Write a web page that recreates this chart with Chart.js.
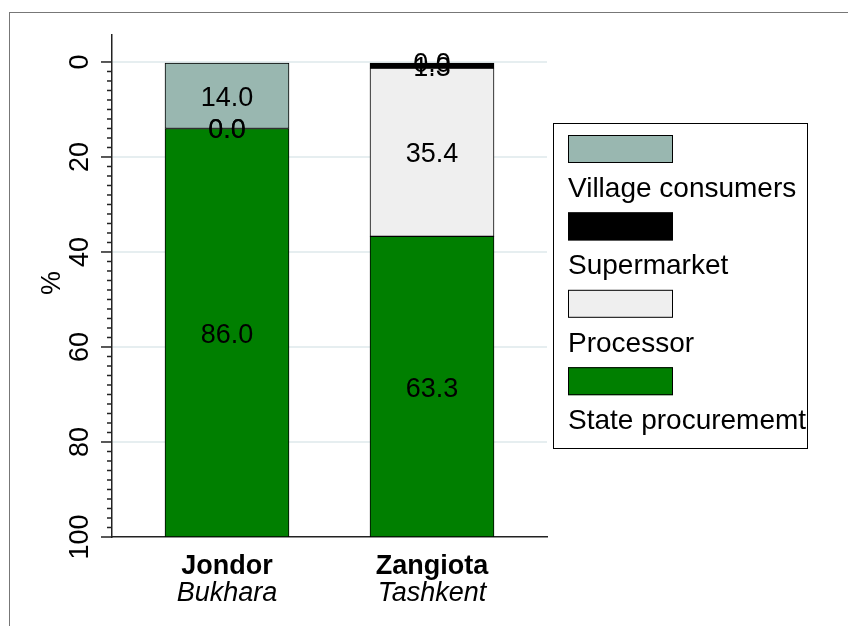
<!DOCTYPE html>
<html lang="en">
<head>
<meta charset="UTF-8">
<title>Sales channels by district</title>
<script src="https://cdn.jsdelivr.net/npm/chart.js"></script>
<style>
  body { margin: 0; background: #fff; }
  #wrap { position: relative; width: 848px; height: 626px; overflow: hidden; }
  #frame { position: absolute; left: 9px; top: 12px; width: 900px; height: 700px; border: 1px solid #777; }
  #chart { position: absolute; left: 0; top: 0; }
</style>
</head>
<body>
<div id="wrap">
  <div id="frame"></div>
  <canvas id="chart" width="848" height="626"></canvas>
</div>
<script>
// districts (bold) and regions (italic)
const districts = ["Jondor", "Zangiota"];
const regions = ["Bukhara", "Tashkent"];

// shares in %, stacked from the top of the reversed axis down
const villageConsumers = [14.0, 0.0];
const supermarket = [0.0, 1.3];
const processor = [0.0, 35.4];
const stateProcurement = [86.0, 63.3];

const seriesLabels = ["Village consumers", "Supermarket", "Processor", "State procurememt"];
const seriesColors = ["#99b7b0", "#000000", "#efefef", "#007f00"];
const yTicks = [0, 20, 40, 60, 80, 100];

const FONT = "'Liberation Sans', Arial, sans-serif";

const seriesValues = [villageConsumers, supermarket, processor, stateProcurement];
const datasets = seriesValues.map((vals, i) => ({
  label: seriesLabels[i],
  data: vals.map((v, j) => ({ x: j + 1, y: v })),
  backgroundColor: seriesColors[i],
  borderColor: "#000",
  borderWidth: 1,
  borderSkipped: false,
  barThickness: 124,
  stack: "all"
}));

// numbers in the middle of each segment
const valueLabels = {
  id: "valueLabels",
  afterDatasetsDraw(chart) {
    const ctx = chart.ctx;
    ctx.save();
    ctx.font = "27px " + FONT;
    ctx.fillStyle = "#000";
    ctx.textAlign = "center";
    ctx.textBaseline = "alphabetic";
    chart.data.datasets.forEach((ds, i) => {
      chart.getDatasetMeta(i).data.forEach((el, j) => {
        const mid = (el.y + el.base) / 2;
        ctx.fillText(ds.data[j].y.toFixed(1), el.x, mid + 10);
      });
    });
    ctx.restore();
  }
};

// stata-like axis decorations, category labels and legend
const decorations = {
  id: "decorations",
  afterDraw(chart) {
    const ctx = chart.ctx;
    const y = chart.scales.y, x = chart.scales.x;
    const left = chart.chartArea.left;
    ctx.save();
    ctx.strokeStyle = "#222";
    ctx.lineWidth = 1.5;
    // major and minor ticks
    for (let v = 0; v <= 100; v += 2) {
      const py = y.getPixelForValue(v);
      const len = v % 20 === 0 ? 11 : 5;
      ctx.beginPath();
      ctx.moveTo(left - len, py);
      ctx.lineTo(left, py);
      ctx.stroke();
    }
    // rotated tick labels
    ctx.fillStyle = "#000";
    ctx.font = "27px " + FONT;
    ctx.textAlign = "center";
    ctx.textBaseline = "alphabetic";
    yTicks.forEach(v => {
      ctx.save();
      ctx.translate(88, y.getPixelForValue(v));
      ctx.rotate(-Math.PI / 2);
      ctx.fillText(String(v), 0, 0);
      ctx.restore();
    });
    ctx.save();
    ctx.translate(60, 283);
    ctx.rotate(-Math.PI / 2);
    ctx.fillText("%", 0, 0);
    ctx.restore();

    // category labels
    districts.forEach((d, i) => {
      const px = x.getPixelForValue(i + 1);
      ctx.font = "bold 27px " + FONT;
      ctx.fillText(d, px, 574);
      ctx.font = "italic 27px " + FONT;
      ctx.fillText(regions[i], px, 601);
    });

    // legend: key above its text
    ctx.lineWidth = 1;
    ctx.strokeStyle = "#000";
    ctx.strokeRect(553.5, 123.5, 254, 325);
    ctx.textAlign = "left";
    ctx.font = "28px " + FONT;
    chart.data.datasets.forEach((ds, i) => {
      const top = 135 + i * 77.4;
      ctx.fillStyle = ds.backgroundColor;
      ctx.fillRect(568, top, 105, 28);
      ctx.strokeRect(568.5, top + 0.5, 104, 27);
      ctx.fillStyle = "#000";
      ctx.fillText(ds.label, 568, top + 62);
    });
    ctx.restore();
  }
};

new Chart(document.getElementById("chart"), {
  type: "bar",
  data: { datasets },
  options: {
    responsive: false,
    animation: false,
    layout: { padding: { left: 0, top: 35, right: 301, bottom: 89 } },
    plugins: { legend: { display: false }, tooltip: { enabled: false } },
    scales: {
      x: {
        type: "linear",
        offset: false,
        min: 0.439,
        max: 2.561,
        ticks: { display: false },
        grid: { display: false, drawTicks: false },
        border: { color: "#222", width: 1.5 },
        afterFit: s => { s.height = 0; }
      },
      y: {
        stacked: true,
        reverse: true,
        min: -5.68,
        max: 100,
        afterBuildTicks: s => { s.ticks = yTicks.map(v => ({ value: v })); },
        ticks: { display: false },
        grid: {
          color: c => (c.tick && c.tick.value === 100) ? "rgba(0,0,0,0)" : "#e6eef0",
          lineWidth: 2,
          drawTicks: false
        },
        border: { color: "#222", width: 1.5 },
        afterFit: s => { s.width = 112; }
      }
    }
  },
  plugins: [valueLabels, decorations]
});
</script>
</body>
</html>
